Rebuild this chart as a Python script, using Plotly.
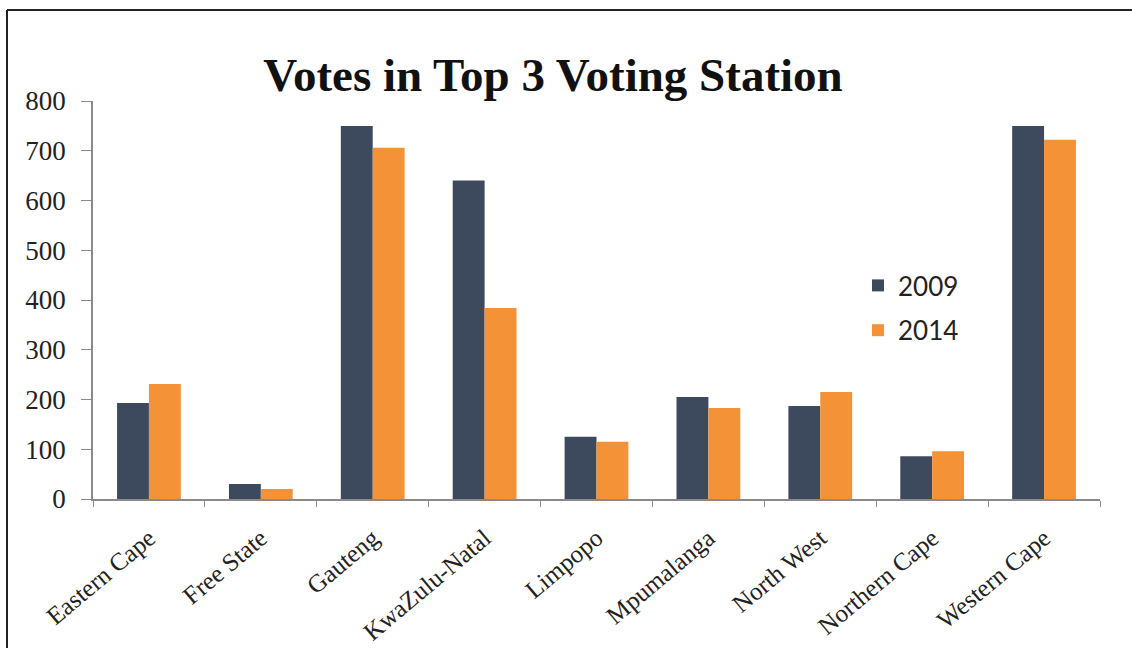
import plotly.graph_objects as go

provinces = ["Eastern Cape", "Free State", "Gauteng", "KwaZulu-Natal", "Limpopo",
             "Mpumalanga", "North West", "Northern Cape", "Western Cape"]
votes_2009 = [193, 30, 750, 640, 125, 205, 187, 86, 750]
votes_2014 = [231, 20, 706, 384, 115, 183, 215, 96, 722]
y_ticks = [0, 100, 200, 300, 400, 500, 600, 700, 800]

dark = "#3D4A5E"
orange = "#F39237"

fig = go.Figure()
fig.add_trace(go.Bar(x=provinces, y=votes_2009, name="2009", marker_color=dark,
                     marker_line_width=0, legendgroup="a"))
fig.add_trace(go.Bar(x=provinces, y=votes_2014, name="2014", marker_color=orange,
                     marker_line_width=0, legendgroup="b"))

W, H = 1132, 648
L, R, T, B = 93, 32, 101, 149
pw, ph = W - L - R, H - T - B

fig.update_layout(
    width=W, height=H,
    margin=dict(l=L, r=R, t=T, b=B, autoexpand=False),
    paper_bgcolor="white", plot_bgcolor="white",
    barmode="group", bargap=0.43, bargroupgap=0,
    title=dict(text="<b>Votes in Top 3 Voting Station</b>",
               font=dict(family="Liberation Serif", size=47, color="#111"),
               x=553 / W, xanchor="center", xref="container",
               y=1 - 75 / H, yanchor="middle", yref="container"),
    legend=dict(x=(858 - L) / pw, y=(499 - 262) / ph, xanchor="left", yanchor="top",
                font=dict(family="Lato", size=26, color="#222"),
                tracegroupgap=8, itemwidth=30, bgcolor="rgba(0,0,0,0)"),
    xaxis=dict(showline=True, linecolor="#8a8a8a", linewidth=1.5, automargin=False,
               ticks="outside", tickson="boundaries", ticklen=6, tickcolor="#8a8a8a",
               tickangle=-40, ticklabelstandoff=13,
               tickfont=dict(family="Liberation Serif", size=25, color="#222")),
    yaxis=dict(range=[0, 800], tickvals=y_ticks, showline=True, linecolor="#8a8a8a",
               linewidth=1.5, ticks="outside", ticklen=10, tickcolor="#8a8a8a",
               showgrid=False, zeroline=False, ticklabelstandoff=10, automargin=False,
               tickfont=dict(family="Liberation Serif", size=27, color="#222")),
    showlegend=True,
)

# partial frame around the chart (left and top edges)
x_left = (7 - L) / pw
y_top = 1 + (T - 10) / ph
fig.add_shape(type="line", xref="paper", yref="paper", x0=x_left, x1=x_left,
              y0=-0.6, y1=y_top, line=dict(color="#222", width=2))
fig.add_shape(type="line", xref="paper", yref="paper", x0=x_left, x1=(W + 5 - L) / pw,
              y0=y_top, y1=y_top, line=dict(color="#222", width=2))

fig.write_html("out.html", config={"displayModeBar": False},
               post_script="document.body.style.margin='0';")
